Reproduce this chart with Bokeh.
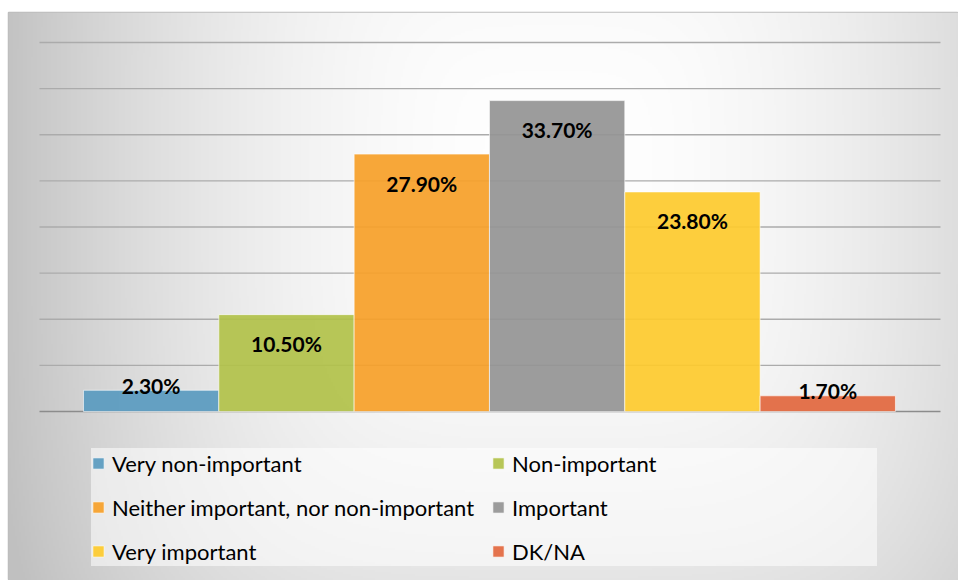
import numpy as np
from bokeh.plotting import figure
from bokeh.models import ColumnDataSource, Range1d, Legend, LegendItem
from bokeh.core.properties import value
from bokeh.embed import file_html
from bokeh.resources import INLINE

# Survey answers and their shares (%)
categories = ["Very non-important", "Non-important",
              "Neither important, nor non-important", "Important",
              "Very important", "DK/NA"]
shares = [2.3, 10.5, 27.9, 33.7, 23.8, 1.7]
colors = ["#5a9bc0", "#b2c24a", "#f6a02a", "#959595", "#fdca2e", "#e2683f"]
grid_values = [5, 10, 15, 20, 25, 30, 35, 40]

FONT = "Lato"

x_lo, x_hi = -1.054, 5.966
y_lo, y_hi = -18.32, 43.25

p = figure(width=958, height=580, output_backend="svg", toolbar_location=None,
           x_range=Range1d(x_lo, x_hi), y_range=Range1d(y_lo, y_hi),
           min_border_left=8, min_border_top=12, min_border_right=0,
           min_border_bottom=0)
p.axis.visible = False
p.grid.visible = False
p.background_fill_color = "#ffffff"
p.border_fill_color = "#ffffff"
p.outline_line_color = "#bdbdbd"
p.outline_line_width = 1.5

# soft radial background shading
W, H = 475, 284
gx = np.linspace(0, 950, W)
gy = np.linspace(568, 0, H)
X, Y = np.meshgrid(gx, gy)
cx, cy = 545.0, 400.0
t = ((np.abs(X - cx) / 560.0) ** 4 + (np.abs(Y - cy) / 620.0) ** 4) ** 0.25
t = np.clip(t, 0, 1)
shade = (255 - 63 * t ** 2).astype(np.uint8)
img = np.empty((H, W), dtype=np.uint32)
view = img.view(dtype=np.uint8).reshape((H, W, 4))
view[:, :, 0] = shade
view[:, :, 1] = shade
view[:, :, 2] = shade
view[:, :, 3] = 255
img = img[::-1]
p.image_rgba(image=[img], x=x_lo, y=y_lo, dw=x_hi - x_lo, dh=y_hi - y_lo,
             level="image")

# horizontal grid lines and the baseline
g_left, g_right = -0.825, 5.833
p.segment(x0=[g_left] * len(grid_values), x1=[g_right] * len(grid_values),
          y0=grid_values, y1=grid_values, line_color="#ababab", line_width=1.3)
p.segment(x0=[g_left], x1=[g_right], y0=[0], y1=[0],
          line_color="#8c8c8c", line_width=1.5)

idx = list(range(len(categories)))
labels = ["%.2f%%" % v for v in shares]
offsets = [29 if v >= 5 else -5 for v in shares]
src = ColumnDataSource(dict(x=idx, top=shares, color=colors, cat=categories,
                            label=labels, off=offsets))

bars = p.vbar(x="x", top="top", bottom=0, width=1.0, source=src,
              fill_color="color", fill_alpha=0.93,
              line_color="white", line_alpha=0.6, line_width=1)

p.text(x="x", y="top", text="label", y_offset="off", source=src,
       text_align="center", text_baseline="middle",
       text_font=value(FONT), text_font_style="bold",
       text_font_size="21px", text_color="#000000")

# two-column legend, read row by row
order = [0, 2, 4, 1, 3, 5]
items = [LegendItem(label=categories[i], renderers=[bars], index=i)
         for i in order]
legend = Legend(items=items, ncols=2, location=(83, 14),
                padding=7, spacing=14, glyph_width=14, glyph_height=14,
                label_standoff=7, label_width=365, label_height=30,
                label_text_font=FONT, label_text_font_size="22px",
                label_text_color="#000000",
                background_fill_color="white", background_fill_alpha=0.55,
                border_line_color=None)
p.add_layout(legend, "center")

open("out.html", "w").write(file_html(p, INLINE))
